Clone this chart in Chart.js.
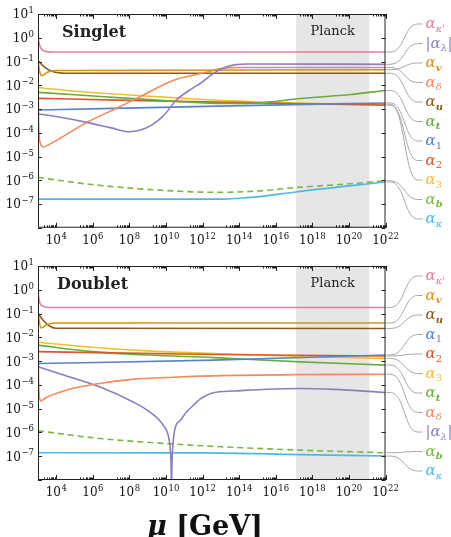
<!DOCTYPE html>
<html>
<head>
<meta charset="utf-8">
<script src="https://cdn.jsdelivr.net/npm/chart.js@4.4.0/dist/chart.umd.min.js"></script>
<style>
  body { margin: 0; background: #fff; width: 451px; height: 537px; overflow: hidden; position: relative; }
  canvas { position: absolute; left: 0; }
  #singlet { top: 0; }
  #doublet { top: 250px; }
</style>
</head>
<body>
<canvas id="singlet" width="451" height="250"></canvas>
<canvas id="doublet" width="451" height="287"></canvas>
<script>
// axis ranges and ticks
const muRange = [1e3, 1e22];
const alphaRange = [1e-8, 1e1];
const planckBand = [1.3e17, 1.3e21];
const xTickExps = [4, 6, 8, 10, 12, 14, 16, 18, 20, 22];
const yTickExps = [1, 0, -1, -2, -3, -4, -5, -6, -7];

// Singlet: [mu, alpha]
const sKappaP = [[1e3, 0.95], [1.26e3, 0.45], [1.78e3, 0.3], [2.8e3, 0.26], [6.3e3, 0.25], [1e22, 0.25]];
const sLambda = [[1e3, 6.3e-4], [1e4, 4.8e-4], [6.3e5, 2.6e-4], [1e7, 1.6e-4], [1e8, 1.1e-4], [4e8, 1.3e-4],
  [1.6e9, 2.1e-4], [7e9, 5e-4], [3.7e10, 2.4e-3], [2e11, 6.3e-3], [1e12, 1.4e-2], [4e12, 3.2e-2],
  [1.6e13, 5.6e-2], [6.3e13, 7.4e-2], [3.2e14, 7.9e-2], [1e22, 7.6e-2]];
const sV = [[1e3, 0.1], [1.26e3, 3.5e-2], [1.66e3, 2.5e-2], [3.2e3, 3.5e-2], [1e4, 4.2e-2], [1e22, 4.5e-2]];
const sDelta = [[1e3, 0.1], [1.07e3, 3.2e-4], [1.3e3, 4e-5], [2e3, 2.5e-5], [4e3, 3.2e-5], [5e5, 2.8e-4],
  [1.6e7, 1e-3], [2.5e8, 2.8e-3], [2.5e10, 1.6e-2], [1.6e12, 3.5e-2], [1e13, 5e-2], [1e14, 5.6e-2], [1e22, 5.6e-2]];
const sU = [[1e3, 0.11], [2e3, 6.3e-2], [6.3e3, 3.8e-2], [3.2e4, 3.2e-2], [1e22, 3.2e-2]];
const sT = [[1e3, 5e-3], [1e5, 4e-3], [1e8, 2.8e-3], [3.2e13, 1.7e-3], [1e15, 1.8e-3], [2.2e17, 2.75e-3],
  [1.26e20, 4.1e-3], [1e22, 6e-3]];
const s1 = [[1e3, 9.1e-4], [3.2e13, 1.35e-3], [1e22, 1.8e-3]];
const s2 = [[1e3, 2.8e-3], [1e8, 2.3e-3], [3.2e13, 1.9e-3], [1e22, 1.45e-3]];
const s3 = [[1e3, 8.1e-3], [1e5, 5.6e-3], [1e8, 3.9e-3], [1e11, 2.8e-3], [3.2e13, 2.2e-3], [1e17, 1.8e-3], [1e22, 1.6e-3]];
const sB = [[1e3, 1.3e-6], [1.5e6, 6.3e-7], [3.2e9, 3.9e-7], [6e12, 3.1e-7], [1e15, 3.5e-7], [1.5e17, 5e-7],
  [3.2e19, 6.6e-7], [1e22, 9.5e-7]];
const sKappa = [[1e3, 1.6e-7], [1.3e13, 1.6e-7], [1e14, 1.75e-7], [1e15, 2e-7], [1.5e17, 3.3e-7], [1e22, 8.5e-7]];

// Doublet
const dKappaP = [[1e3, 0.7], [1.26e3, 0.28], [2e3, 0.2], [4e3, 0.18], [1e22, 0.18]];
const dV = [[1e3, 0.1], [1.45e3, 2.5e-2], [3.2e3, 3.5e-2], [1e4, 4e-2], [1e22, 4e-2]];
const dU = [[1e3, 0.1], [2e3, 5e-2], [5e3, 2.8e-2], [1e4, 2.4e-2], [1e22, 2.35e-2]];
const d3 = [[1e3, 6.2e-3], [1e6, 3.8e-3], [1e9, 2.7e-3], [4e12, 2.1e-3], [1e17, 1.6e-3], [1e22, 1.3e-3]];
const dT = [[1e3, 4.7e-3], [1e6, 2.5e-3], [1e9, 1.8e-3], [4e12, 1.4e-3], [2.2e17, 9.3e-4], [1e22, 6.8e-4]];
const d2 = [[1e3, 2.5e-3], [4e12, 1.9e-3], [1e22, 1.65e-3]];
const d1 = [[1e3, 7.9e-4], [4e12, 1.1e-3], [1e22, 1.8e-3]];
const dDelta = [[1e3, 0.1], [1.07e3, 1.6e-4], [1.26e3, 2.5e-5], [1.45e3, 2.1e-5], [2.5e3, 2.8e-5], [3.4e4, 6e-5],
  [2.3e6, 1.15e-4], [1.5e8, 1.7e-4], [2.5e10, 2.1e-4], [4e12, 2.4e-4], [1e17, 2.7e-4], [1e22, 2.8e-4]];
const dLambda = [[1e3, 5.8e-4], [3.4e4, 2.4e-4], [2.3e6, 8.3e-5], [1.5e8, 1.95e-5], [1.26e9, 7.4e-6], [7e9, 2e-6],
  [1.4e10, 6e-7], [1.75e10, 1.5e-7], [1.93e10, 2e-8], [2e10, 1e-9], [2.07e10, 2e-8], [2.3e10, 2e-7],
  [2.7e10, 8e-7], [3.5e10, 2e-6], [6e10, 3.2e-6], [1.35e11, 7.4e-6], [3.5e11, 1.5e-5], [7.2e11, 2.5e-5],
  [3.9e12, 4.7e-5], [4.9e13, 5.5e-5], [3.3e15, 6.6e-5], [2.2e17, 7.1e-5], [1.5e19, 6.5e-5], [1e22, 4.8e-5]];
const dB = [[1e3, 1.17e-6], [2.3e6, 5.6e-7], [1e10, 3.4e-7], [4e12, 2.6e-7], [2.2e17, 1.8e-7], [1e22, 1.4e-7]];
const dKappa = [[1e3, 1.4e-7], [7e11, 1.38e-7], [2.2e17, 1.17e-7], [1e22, 1.02e-7]];

// colours and label symbols
const colors = {
  kp: '#e07fa3', lam: '#8b7fbf', v: '#d4921c', delta: '#f28a5c', u: '#8a5a16', t: '#6bab3c',
  a1: '#5c83c6', a2: '#d9572c', a3: '#f0c030', b: '#7db544', kappa: '#4db8e6'
};
const subs = {
  kp: "\u03ba'", lam: '\u03bb', v: 'v', delta: '\u03b4', u: 'u', t: 't',
  a1: '1', a2: '2', a3: '3', b: 'b', kappa: '\u03ba'
};

const singletCurves = { kp: sKappaP, lam: sLambda, v: sV, delta: sDelta, u: sU, t: sT, a1: s1, a2: s2, a3: s3, b: sB, kappa: sKappa };
const doubletCurves = { kp: dKappaP, lam: dLambda, v: dV, delta: dDelta, u: dU, t: dT, a1: d1, a2: d2, a3: d3, b: dB, kappa: dKappa };
const singletOrder = ['kp', 'lam', 'v', 'delta', 'u', 't', 'a1', 'a2', 'a3', 'b', 'kappa'];
const doubletOrder = ['kp', 'v', 'u', 'a1', 'a2', 'a3', 't', 'delta', 'lam', 'b', 'kappa'];

const SERIF = '"DejaVu Serif", serif';

function drawPow(ctx, e, x, y, align) {
  const sup = e < 0 ? '\u2212' + (-e) : String(e);
  ctx.font = '12px ' + SERIF;
  const wb = ctx.measureText('10').width;
  ctx.font = '8.5px ' + SERIF;
  const ws = ctx.measureText(sup).width;
  const w = wb + ws + 0.5;
  const x0 = align === 'right' ? x - w : x - w / 2;
  ctx.textAlign = 'left';
  ctx.textBaseline = 'alphabetic';
  ctx.font = '12px ' + SERIF;
  ctx.fillText('10', x0, y + 4.4);
  ctx.font = '8.5px ' + SERIF;
  ctx.fillText(sup, x0 + wb + 0.5, y - 1);
}

function drawSymbol(ctx, key, x, y) {
  ctx.fillStyle = colors[key];
  ctx.textAlign = 'left';
  ctx.textBaseline = 'alphabetic';
  const base = y + 4;
  let cx = x;
  if (key === 'lam') {
    ctx.font = '15px ' + SERIF;
    ctx.fillText('|', cx, base);
    cx += ctx.measureText('|').width;
  }
  ctx.font = 'italic 15px ' + SERIF;
  ctx.fillText('\u03b1', cx, base);
  cx += ctx.measureText('\u03b1').width;
  const s = subs[key];
  ctx.font = (/[0-9]/.test(s) ? '' : (/[vutb]/.test(s) ? 'italic bold ' : 'italic ')) + '10px ' + SERIF;
  ctx.fillText(s, cx, base + 3.5);
  cx += ctx.measureText(s).width;
  if (key === 'lam') {
    ctx.font = '15px ' + SERIF;
    ctx.fillText('|', cx + 0.5, base);
  }
}

const decor = {
  id: 'decor',
  beforeDatasetsDraw(chart, args, opts) {
    const { ctx, chartArea: a, scales: { x } } = chart;
    const x1 = x.getPixelForValue(planckBand[0]);
    const x2 = x.getPixelForValue(planckBand[1]);
    ctx.save();
    ctx.fillStyle = '#e6e6e6';
    ctx.fillRect(x1, a.top, x2 - x1, a.bottom - a.top);
    ctx.fillStyle = '#222';
    ctx.font = '13px ' + SERIF;
    ctx.textAlign = 'center';
    ctx.textBaseline = 'alphabetic';
    ctx.fillText('Planck', (x1 + x2) / 2, a.top + 21);
    ctx.font = 'bold 16px ' + SERIF;
    ctx.textAlign = 'left';
    ctx.fillText(opts.title, opts.titleX, a.top + 23);
    ctx.restore();
  },
  afterDraw(chart, args, opts) {
    const { ctx, chartArea: a, scales: { x, y } } = chart;
    ctx.save();
    // frame
    ctx.strokeStyle = '#222';
    ctx.lineWidth = 1;
    ctx.strokeRect(a.left + 0.5, a.top + 0.5, a.right - a.left - 1, a.bottom - a.top - 1);
    // y ticks
    ctx.beginPath();
    for (let e = -8; e <= 1; e++) {
      const py = Math.round(y.getPixelForValue(Math.pow(10, e))) + 0.5;
      ctx.moveTo(a.left, py); ctx.lineTo(a.left + 4, py);
      ctx.moveTo(a.right, py); ctx.lineTo(a.right - 4, py);
    }
    // x ticks
    xTickExps.forEach(e => {
      const px = Math.round(x.getPixelForValue(Math.pow(10, e))) + 0.5;
      ctx.moveTo(px, a.bottom); ctx.lineTo(px, a.bottom - 5);
      ctx.moveTo(px, a.top); ctx.lineTo(px, a.top + 5);
      for (let k = 2; k <= 9; k++) {
        const mx = Math.round(x.getPixelForValue(k * Math.pow(10, e - 1))) + 0.5;
        ctx.moveTo(mx, a.bottom); ctx.lineTo(mx, a.bottom - 2.5);
        ctx.moveTo(mx, a.top); ctx.lineTo(mx, a.top + 2.5);
      }
    });
    ctx.stroke();
    // tick labels
    ctx.fillStyle = '#111';
    yTickExps.forEach(e => drawPow(ctx, e, a.left - 4, y.getPixelForValue(Math.pow(10, e)), 'right'));
    xTickExps.forEach(e => drawPow(ctx, e, x.getPixelForValue(Math.pow(10, e)), a.bottom + 12, 'center'));
    // connectors and labels
    ctx.strokeStyle = '#a8a8a8';
    ctx.lineWidth = 1;
    opts.order.forEach((key, i) => {
      const pts = opts.curves[key];
      const y0 = y.getPixelForValue(pts[pts.length - 1][1]);
      const ly = a.top + 10 + i * 19.5;
      const r = a.right;
      ctx.beginPath();
      ctx.moveTo(r + 1, y0);
      ctx.lineTo(r + 5, y0);
      ctx.bezierCurveTo(r + 19, y0, r + 19, ly, r + 32, ly);
      ctx.lineTo(r + 37, ly);
      ctx.stroke();
      drawSymbol(ctx, key, r + 40, ly);
    });
    if (opts.axisTitle) {
      ctx.fillStyle = '#111';
      ctx.textAlign = 'left';
      ctx.textBaseline = 'alphabetic';
      ctx.font = 'italic bold 27px ' + SERIF;
      const mu = '\u03bc';
      ctx.fillText(mu, 147, 285);
      const w = ctx.measureText(mu).width;
      ctx.font = 'bold 27px ' + SERIF;
      ctx.fillText(' [GeV]', 147 + w, 285);
    }
    ctx.restore();
  }
};

function makeChart(id, curves, order, title, titleX, padding, axisTitle) {
  const datasets = order.map(key => ({
    label: key,
    data: curves[key].map(p => ({ x: p[0], y: p[1] })),
    borderColor: colors[key],
    borderWidth: 1.6,
    borderDash: key === 'b' ? [6, 4] : [],
    pointRadius: 0,
    cubicInterpolationMode: 'monotone',
    fill: false
  }));
  return new Chart(document.getElementById(id), {
    type: 'line',
    data: { datasets: datasets },
    options: {
      responsive: false,
      animation: false,
      devicePixelRatio: 1,
      layout: { padding: padding },
      scales: {
        x: { type: 'logarithmic', min: muRange[0], max: muRange[1], display: false },
        y: { type: 'logarithmic', min: alphaRange[0], max: alphaRange[1], display: false }
      },
      plugins: {
        legend: { display: false },
        tooltip: { enabled: false },
        decor: { title: title, titleX: titleX, order: order, curves: curves, axisTitle: axisTitle }
      }
    },
    plugins: [decor]
  });
}

makeChart('singlet', singletCurves, singletOrder, 'Singlet', 62, { left: 38, top: 14, right: 65.5, bottom: 22.25 }, false);
makeChart('doublet', doubletCurves, doubletOrder, 'Doublet', 57, { left: 38, top: 16, right: 65.5, bottom: 57 }, true);
</script>
</body>
</html>
